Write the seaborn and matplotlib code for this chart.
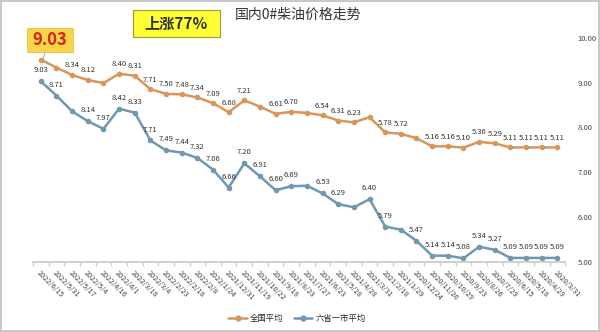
import matplotlib
matplotlib.use("Agg")
import matplotlib.pyplot as plt
from matplotlib.patches import Rectangle
from matplotlib.lines import Line2D
import numpy as np
import pandas as pd
import seaborn as sns

sns.set_theme(style="white")
plt.rcParams["font.family"] = ["Noto Sans CJK SC", "DejaVu Sans"]

# Price dates, oldest first
dates = ["2020/3/31", "2020/4/29", "2020/5/18", "2020/6/15", "2020/7/29",
         "2020/8/26", "2020/9/23", "2020/10/29", "2020/11/26", "2020/12/24",
         "2021/1/29", "2021/2/18", "2021/3/31", "2021/4/28", "2021/5/28",
         "2021/6/23", "2021/7/27", "2021/8/23", "2021/9/18", "2021/10/22",
         "2021/11/19", "2021/12/31", "2022/1/24", "2022/2/8", "2022/2/18",
         "2022/2/23", "2022/3/4", "2022/3/18", "2022/4/1", "2022/4/16",
         "2022/5/4", "2022/5/17", "2022/5/31", "2022/6/15"]

# National average 0# diesel price
national = [5.11, 5.11, 5.11, 5.11, 5.29, 5.36, 5.10, 5.16, 5.16, 5.52,
            5.72, 5.78, 6.46, 6.23, 6.31, 6.54, 6.65, 6.70, 6.61, 6.93,
            7.21, 6.68, 7.09, 7.34, 7.48, 7.50, 7.71, 8.31, 8.40, 7.98,
            8.12, 8.34, 8.67, 9.03]
national_shown = [True, True, True, True, True, True, True, True, True, False,
                  True, True, False, True, True, True, False, True, True, False,
                  True, True, True, True, True, True, True, True, True, False,
                  True, True, False, False]

# Six provinces + one city average 0# diesel price
regional = [5.09, 5.09, 5.09, 5.09, 5.27, 5.34, 5.08, 5.14, 5.14, 5.47,
            5.72, 5.79, 6.40, 6.22, 6.29, 6.53, 6.70, 6.69, 6.60, 6.91,
            7.20, 6.66, 7.06, 7.32, 7.44, 7.49, 7.71, 8.33, 8.42, 7.97,
            8.14, 8.36, 8.71, 9.03]
regional_shown = [True, True, True, True, True, True, True, True, True, True,
                  False, True, True, False, True, True, False, True, True, True,
                  True, True, True, True, True, True, True, True, True, True,
                  True, False, True, True]

y_ticks = [5.00, 6.00, 7.00, 8.00, 9.00, 10.00]

title = "国内0#柴油价格走势"
rise_text = "上涨77%"
latest_text = "9.03"
series_names = ["全国平均", "六省一市平均"]

ORANGE = "#D8965C"
BLUE = "#7098AE"

df = pd.DataFrame({"pos": np.arange(len(dates)), "date": dates,
                   "national": national, "regional": regional})

fig = plt.figure(figsize=(6.0, 3.32), dpi=100)
fig.patch.set_facecolor("white")
fig.patch.set_edgecolor("#c8c8c8")
fig.patch.set_linewidth(1.5)

ax_nat = fig.add_axes([0.055, 0.211, 0.887, 0.675])
ax_reg = ax_nat.twinx()

sns.lineplot(data=df, x="pos", y="national", ax=ax_nat, color=ORANGE,
             linewidth=1.8, marker="o", markersize=4, markeredgewidth=0,
             label=series_names[0], legend=False)
sns.lineplot(data=df, x="pos", y="regional", ax=ax_reg, color=BLUE,
             linewidth=1.8, marker="o", markersize=4, markeredgewidth=0,
             label=series_names[1], legend=False)

ax_nat.set_ylim(0, 10)
ax_reg.set_ylim(5, 10)
ax_nat.set_xlim(len(dates) - 0.5, -0.5)

for x, v, show in zip(df["pos"], national, national_shown):
    if show:
        ax_nat.annotate(f"{v:.2f}", (x, v), xytext=(0, 4), textcoords="offset points",
                        ha="center", va="bottom", fontsize=5.5, color="#333333")
for x, v, show in zip(df["pos"], regional, regional_shown):
    if show:
        ax_reg.annotate(f"{v:.2f}", (x, v), xytext=(0, 5), textcoords="offset points",
                        ha="center", va="bottom", fontsize=5.5, color="#333333")

# axis styling
for a in (ax_nat, ax_reg):
    for s in ("top", "left", "right"):
        a.spines[s].set_visible(False)
    a.spines["bottom"].set_color("#d0d0d0")
    a.set_xlabel("")
    a.set_ylabel("")

ax_nat.set_yticks([])
ax_reg.set_yticks(y_ticks)
ax_reg.set_yticklabels([f"{t:.2f}" for t in y_ticks], fontsize=5.5, color="#444444")
ax_reg.tick_params(axis="y", length=0, pad=9)

ax_nat.set_xticks(df["pos"])
ax_nat.set_xticklabels(dates, rotation=-45, ha="left", rotation_mode="anchor",
                       fontsize=5.3, color="#444444")
ax_nat.set_xticks(np.arange(-0.5, len(dates)), minor=True)
ax_nat.tick_params(axis="x", which="major", length=0, pad=5)
ax_nat.tick_params(axis="x", which="minor", length=3, color="#d0d0d0", bottom=True)

# title
fig.text(0.497, 0.955, title, ha="center", va="center", fontsize=10, color="#333333")

# highlighted rise box
fig.patches.append(Rectangle((0.2217, 0.8886), 0.145, 0.0813, transform=fig.transFigure,
                             facecolor="#FFFF33", edgecolor="#9a9a40", linewidth=0.8,
                             zorder=5))
fig.text(0.294, 0.929, rise_text, ha="center", va="center", fontsize=11,
         fontweight="bold", color="#333333", zorder=6)

# latest price callout
fig.patches.append(Rectangle((0.045, 0.843), 0.0767, 0.0723, transform=fig.transFigure,
                             facecolor="#F6D54A", edgecolor="#E8C040", linewidth=0.6,
                             zorder=5))
fig.text(0.0835, 0.879, latest_text, ha="center", va="center", fontsize=12,
         fontweight="bold", color="#D0261C", zorder=6)
fig.lines.append(Line2D([0.075, 0.072], [0.843, 0.822], transform=fig.transFigure,
                        color="#999999", linewidth=0.6))

# legend
handles = [Line2D([], [], color=ORANGE, marker="o", markersize=3.5, linewidth=1.8),
           Line2D([], [], color=BLUE, marker="o", markersize=3.5, linewidth=1.8)]
fig.legend(handles, series_names, loc="center", bbox_to_anchor=(0.495, 0.042),
           ncol=2, frameon=False, fontsize=6, handlelength=2.2, columnspacing=1.2,
           handletextpad=0.4)

fig.savefig("out.png", dpi=100, facecolor=fig.get_facecolor(),
            edgecolor=fig.get_edgecolor())
